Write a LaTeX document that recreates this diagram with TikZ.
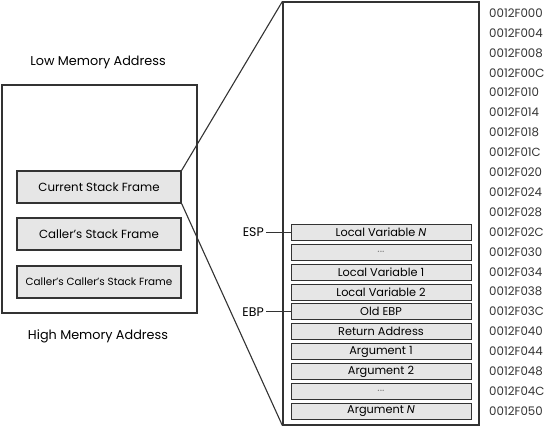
\documentclass[tikz,border=0pt]{standalone}
\usepackage{fontspec}
\setmainfont{Poppins}
\usepackage{tikz}
\usetikzlibrary{positioning}

\definecolor{slotgray}{HTML}{E6E6E6}
\definecolor{linegray}{HTML}{333333}

\tikzset{
  frame/.style={draw=linegray, line width=1.4pt, fill=slotgray, minimum width=164pt, minimum height=32pt, inner sep=0pt, font=\fontsize{11.8}{13}\selectfont},
  slot/.style={draw=linegray, line width=0.6pt, fill=slotgray, minimum width=180pt, minimum height=16pt, inner sep=0pt, font=\fontsize{11.3}{12}\selectfont},
  addr/.style={anchor=west, inner sep=0pt, font=\fontsize{11.8}{13}\selectfont, text=linegray},
  reg/.style={anchor=east, inner sep=0pt, font=\fontsize{12.5}{13}\selectfont}
}

\begin{document}
\begin{tikzpicture}[x=1pt, y=-1pt]
\useasboundingbox (0,0) rectangle (550,428);

% left side: the stack as a whole
\node[draw=linegray, line width=1.2pt, minimum width=195pt, minimum height=228pt, inner sep=0pt] (Stack) at (99.5,199) {};
\node[font=\fontsize{12.8}{14}\selectfont] (LowLabel) at (98,62) {Low Memory Address};
\node[font=\fontsize{12.8}{14}\selectfont] (HighLabel) at (98,336) {High Memory Address};
\node[frame] (FrameA) at (99,187) {Current Stack Frame};
\node[frame] (FrameB) at (99,234) {Caller's Stack Frame};
\node[frame, font=\fontsize{10.4}{12}\selectfont] (FrameC) at (99,282) {Caller's Caller's Stack Frame};

% right side: the current frame, zoomed in
\node[draw=linegray, line width=1.2pt, minimum width=196pt, minimum height=423pt, inner sep=0pt] (Zoom) at (381,213.5) {};
\draw[line width=1.1pt, linegray] (FrameA.north east) -- (Zoom.north west);
\draw[line width=1.1pt, linegray] (FrameA.south east) -- (Zoom.south west);

\node[slot] (SlotA) at (381,232.1) {Local Variable \textit{N}};
\node[slot] (SlotB) at (381,252.0) {\textcolor{gray}{...}};
\node[slot] (SlotC) at (381,271.9) {Local Variable 1};
\node[slot] (SlotD) at (381,291.8) {Local Variable 2};
\node[slot] (SlotE) at (381,311.7) {Old EBP};
\node[slot] (SlotF) at (381,331.6) {Return Address};
\node[slot] (SlotG) at (381,351.5) {Argument 1};
\node[slot] (SlotH) at (381,371.4) {Argument 2};
\node[slot] (SlotI) at (381,391.3) {\textcolor{gray}{...}};
\node[slot] (SlotJ) at (381,411.2) {Argument \textit{N}};

\node[reg] (ESP) at (264,232.1) {ESP};
\node[reg] (EBP) at (264,311.7) {EBP};
\draw[line width=0.6pt, linegray] (ESP.east) ++(2,0) -- (SlotA.west);
\draw[line width=0.6pt, linegray] (EBP.east) ++(2,0) -- (SlotE.west);

% addresses
\node[addr] (AddrA) at (489,13.0) {0012F000};
\node[addr] (AddrB) at (489,32.9) {0012F004};
\node[addr] (AddrC) at (489,52.8) {0012F008};
\node[addr] (AddrD) at (489,72.7) {0012F00C};
\node[addr] (AddrE) at (489,92.6) {0012F010};
\node[addr] (AddrF) at (489,112.5) {0012F014};
\node[addr] (AddrG) at (489,132.4) {0012F018};
\node[addr] (AddrH) at (489,152.3) {0012F01C};
\node[addr] (AddrI) at (489,172.2) {0012F020};
\node[addr] (AddrJ) at (489,192.1) {0012F024};
\node[addr] (AddrK) at (489,212.0) {0012F028};
\node[addr] (AddrL) at (489,231.9) {0012F02C};
\node[addr] (AddrM) at (489,251.8) {0012F030};
\node[addr] (AddrN) at (489,271.7) {0012F034};
\node[addr] (AddrO) at (489,291.6) {0012F038};
\node[addr] (AddrP) at (489,311.5) {0012F03C};
\node[addr] (AddrQ) at (489,331.4) {0012F040};
\node[addr] (AddrR) at (489,351.3) {0012F044};
\node[addr] (AddrS) at (489,371.2) {0012F048};
\node[addr] (AddrT) at (489,391.1) {0012F04C};
\node[addr] (AddrU) at (489,411.0) {0012F050};
\end{tikzpicture}
\end{document}
